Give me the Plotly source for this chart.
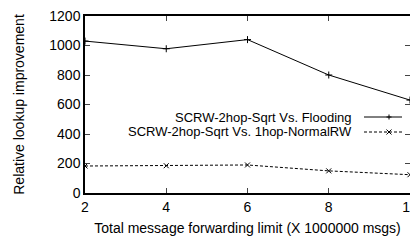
import plotly.graph_objects as go

x_vals = [2, 4, 6, 8, 10]
flooding = [1030, 978, 1040, 800, 630]
normalrw = [183, 185, 190, 150, 124]
name_flood = "SCRW-2hop-Sqrt Vs. Flooding"
name_rw = "SCRW-2hop-Sqrt Vs. 1hop-NormalRW"

FONT = "Liberation Sans, Arial, Helvetica, sans-serif"

fig = go.Figure()
fig.add_trace(go.Scatter(x=x_vals, y=flooding, mode="lines+markers", name=name_flood,
                         line=dict(color="black", width=1),
                         marker=dict(symbol="cross-thin", size=5, line=dict(color="black", width=1))))
fig.add_trace(go.Scatter(x=x_vals, y=normalrw, mode="lines+markers", name=name_rw,
                         line=dict(color="black", width=1, dash="3px,2px"),
                         marker=dict(symbol="x-thin", size=5, line=dict(color="black", width=1))))

# legend drawn manually (text left, sample right)
TOP, BOT = 16, 193
PW, PH = 325.0, float(BOT - TOP)
def px(xw):
    return (xw - 85) / PW
def py(yw):
    return 1 - (yw - TOP) / PH

leg = [(name_flood, 117, "solid", "+"), (name_rw, 132, "3px,2px", "x")]
for txt, ypx, dash, sym in leg:
    fig.add_annotation(x=px(354), y=py(ypx), xref="paper", yref="paper", text=txt,
                       showarrow=False, xanchor="right", yanchor="middle",
                       font=dict(family=FONT, size=13, color="black"))
    fig.add_shape(type="line", xref="paper", yref="paper", x0=px(364), x1=px(402),
                  y0=py(ypx), y1=py(ypx), line=dict(color="black", width=1, dash=dash))
    mx, r = 389, 2.5
    if sym == "+":
        segs = [(mx - r, ypx, mx + r, ypx), (mx, ypx - r, mx, ypx + r)]
    else:
        segs = [(mx - r, ypx - r, mx + r, ypx + r), (mx - r, ypx + r, mx + r, ypx - r)]
    for x0, y0, x1, y1 in segs:
        fig.add_shape(type="line", xref="paper", yref="paper", x0=px(x0), x1=px(x1),
                      y0=py(y0), y1=py(y1), line=dict(color="black", width=1))

fig.update_layout(
    width=418, height=240,
    margin=dict(l=77, r=16, t=TOP - 8, b=240 - (BOT - 8)),
    paper_bgcolor="white", plot_bgcolor="white",
    showlegend=False,
    font=dict(family=FONT, size=14, color="black"),
)
fig.update_xaxes(range=[2, 10], tickvals=[2, 4, 6, 8, 10], ticks="inside", ticklen=5,
                 mirror="ticks", showline=True, linecolor="black", linewidth=1.5,
                 showgrid=False, zeroline=False, ticklabeloverflow="allow", automargin=False,
                 title=dict(text="Total message forwarding limit (X 1000000 msgs)", standoff=10,
                            font=dict(size=14)))
fig.update_yaxes(range=[0, 1200], tickvals=[0, 200, 400, 600, 800, 1000, 1200], ticks="inside",
                 ticklen=5, mirror="ticks", showline=True, linecolor="black", linewidth=1.5,
                 showgrid=False, zeroline=False, ticklabeloverflow="allow", automargin=False,
                 title=dict(text="Relative lookup improvement", standoff=21, font=dict(size=14)))

fig.write_html("out.html")
